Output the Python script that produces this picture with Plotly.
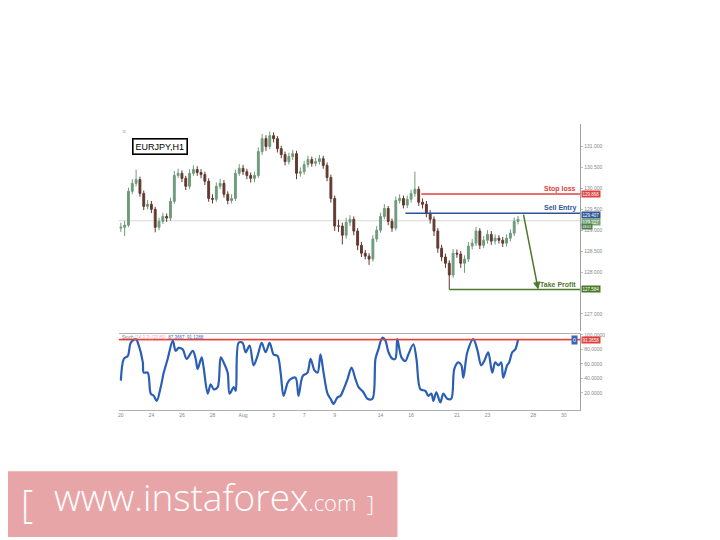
import plotly.graph_objects as go

# ---------------- data ----------------
# EURJPY H1 (sampled every 6 trading hours), x in trading days from 20 Jul
candle_open = [129.05,129.07,129.12,129.93,130.12,130.21,129.88,129.57,129.62,129.50,
 129.07,129.21,129.33,129.29,129.69,130.31,130.36,130.24,130.05,130.36,
 130.45,130.38,130.33,130.17,129.76,129.74,130.05,130.12,129.86,129.71,
 129.76,130.36,130.48,130.40,130.31,130.24,130.31,130.88,131.19,131.00,
 131.26,131.19,130.95,130.81,130.64,130.76,130.83,130.36,130.40,130.57,
 130.69,130.60,130.64,130.71,130.55,130.26,129.76,129.10,129.10,128.88,
 129.19,129.26,128.98,128.64,128.45,128.38,128.31,128.79,129.00,129.33,
 129.52,129.21,129.05,129.71,129.76,129.60,129.74,129.88,129.98,129.67,
 129.62,129.40,129.26,128.98,128.57,128.36,128.21,127.93,128.45,128.43,
 128.21,128.31,128.62,128.69,128.98,128.64,128.76,128.90,128.74,128.81,
 128.76,128.69,128.81,128.93,129.21]
candle_high = [129.18,129.22,130.02,130.22,130.45,130.28,129.95,129.72,129.70,129.56,
 129.30,129.42,129.40,129.78,130.42,130.47,130.43,130.30,130.46,130.55,
 130.53,130.46,130.40,130.24,129.86,130.14,130.23,130.20,129.93,129.86,
 130.45,130.58,130.56,130.47,130.38,130.40,130.98,131.30,131.27,131.36,
 131.34,131.25,131.02,130.88,130.85,130.92,130.90,130.50,130.66,130.78,
 130.76,130.73,130.80,130.78,130.62,130.33,129.83,129.25,129.18,129.30,
 129.36,129.33,129.05,128.72,128.53,128.45,128.88,129.10,129.42,129.62,
 129.58,129.28,129.80,129.86,129.83,129.83,129.97,130.40,130.05,129.76,
 129.70,129.48,129.33,129.05,128.65,128.44,128.28,128.55,128.54,128.50,
 128.40,128.72,128.79,129.08,129.05,128.86,129.00,128.98,128.90,128.88,
 128.84,128.90,129.02,129.30,129.34]
candle_low = [128.96,128.86,129.08,129.86,130.05,129.80,129.48,129.50,129.41,128.95,
 129.00,129.15,129.20,129.22,129.63,130.25,130.15,129.96,129.98,130.30,
 130.30,130.24,130.08,129.68,129.64,129.68,129.98,129.78,129.62,129.64,
 129.70,130.30,130.32,130.22,130.14,130.15,130.25,130.80,130.90,130.94,
 131.10,130.86,130.72,130.55,130.57,130.68,130.22,130.28,130.33,130.50,
 130.52,130.53,130.57,130.47,130.17,129.66,128.98,128.96,128.66,128.80,
 129.10,128.88,128.52,128.36,128.30,128.17,128.25,128.72,128.94,129.26,
 129.12,128.96,128.99,129.64,129.52,129.53,129.66,129.80,129.58,129.52,
 129.31,129.16,128.86,128.46,128.26,128.10,127.58,127.86,128.34,128.10,
 127.98,128.24,128.54,128.62,128.55,128.57,128.68,128.65,128.66,128.68,
 128.60,128.61,128.73,128.86,129.14]
candle_close = [129.07,129.12,129.93,130.12,130.21,129.88,129.57,129.62,129.50,129.07,
 129.21,129.33,129.29,129.69,130.31,130.36,130.24,130.05,130.36,130.45,
 130.38,130.33,130.17,129.76,129.74,130.05,130.12,129.86,129.71,129.76,
 130.36,130.48,130.40,130.31,130.24,130.31,130.88,131.19,131.00,131.26,
 131.19,130.95,130.81,130.64,130.76,130.83,130.36,130.40,130.57,130.69,
 130.60,130.64,130.71,130.55,130.26,129.76,129.10,129.10,128.88,129.19,
 129.26,128.98,128.64,128.45,128.38,128.31,128.79,129.00,129.33,129.52,
 129.21,129.05,129.71,129.76,129.60,129.74,129.88,129.98,129.67,129.62,
 129.40,129.26,128.98,128.57,128.36,128.21,127.93,128.45,128.43,128.21,
 128.31,128.62,128.69,128.98,128.64,128.76,128.90,128.74,128.81,128.76,
 128.69,128.81,128.93,129.21,129.26]
candle_day = [i * 0.25 for i in range(len(candle_close))]

stoch_day = [0.00,0.20,0.46,0.65,0.98,1.18,1.44,1.50,1.76,1.96,
 2.16,2.35,2.61,2.81,3.07,3.40,3.59,3.79,4.05,4.31,
 4.71,4.90,5.03,5.29,5.42,5.69,5.88,6.08,6.34,6.54,
 6.73,6.99,7.12,7.39,7.52,7.71,7.97,8.17,8.43,8.69,
 8.95,9.22,9.48,9.74,10.00,10.26,10.46,10.65,10.92,11.11,
 11.44,11.63,11.90,12.22,12.42,12.68,12.88,13.07,13.27,13.53,
 13.73,13.92,14.18,14.38,14.58,14.84,15.10,15.36,15.56,15.88,
 16.14,16.47,16.67,16.86,17.12,17.32,17.52,17.78,17.97,18.10,
 18.37,18.63,18.82,19.15,19.35,19.61,19.93,20.13,20.33,20.46,
 20.65,20.92,21.11,21.37,21.63,21.83,22.09,22.29,22.42,22.68,
 23.07,23.33,23.59,23.79,24.05,24.31,24.51,24.71,24.90,25.03,
 25.29,25.42,25.62,25.82,26.01]
stoch_val = [37,67,71,89,94,85,62,48,48,19,
 16,9,28,48,67,92,78,82,80,67,
 78,67,53,69,55,19,32,25,28,69,
 62,48,19,28,23,89,89,76,85,58,
 71,89,76,89,73,71,48,16,34,39,
 41,16,43,48,67,51,48,73,48,19,
 12,5,14,16,25,39,55,39,28,21,
 12,12,67,80,96,92,76,67,67,94,
 69,64,73,87,67,25,23,16,19,9,
 21,7,19,12,12,53,62,58,41,76,
 94,80,58,64,76,48,62,58,62,41,
 58,62,76,80,94]

tick_days = [0, 2, 4, 6, 8, 10, 12, 14, 17, 19, 22, 24, 27, 29]
tick_text = ["20", "24", "26", "28", "Aug", "3", "7", "9", "14", "16", "21", "23", "28", "30"]
price_ticks = [127.0, 128.0, 128.5, 129.0, 129.5, 130.0, 130.5, 131.0]
stoch_ticks = [20, 40, 60, 80, 100]

stop_loss = 129.868
sell_entry = 129.407
take_profit = 127.584
last_price = 129.227
stoch_level = 93.3658
stop_start_day = 19.67
entry_start_day = 18.63
tp_start_day = 21.5
arrow_from_day = 26.34
arrow_to_day = 27.32

# ---------------- figure ----------------
# the page body has an 8px margin, so the figure is 712x532 placed at (8, 8)
OFF = 8
W, H = 712, 532
def px(x):
    return (x - OFF) / W
def py(y):
    return 1 - (y - OFF) / H

X_MIN, X_MAX = -0.13, 30.07
xdom = [px(118), px(580)]
ydom_price = [py(330), py(122)]
ydom_stoch = [py(410), py(333)]

UP = "#6f9a7c"
DOWN = "#62392f"
RED = "#e0403c"
BLUE = "#2f5597"
GREEN = "#4b7a2b"

fig = go.Figure()
fig.add_trace(go.Candlestick(
    x=candle_day, open=candle_open, high=candle_high, low=candle_low, close=candle_close,
    xaxis="x", yaxis="y", whiskerwidth=0, showlegend=False,
    increasing=dict(line=dict(color=UP, width=1), fillcolor=UP),
    decreasing=dict(line=dict(color=DOWN, width=1), fillcolor=DOWN),
))
fig.add_trace(go.Scatter(
    x=stoch_day, y=stoch_val, xaxis="x2", yaxis="y2", mode="lines",
    line=dict(color="#2b5fb4", width=2.2, shape="spline", smoothing=0.9),
    showlegend=False,
))

axis_font = dict(size=5, color="#888888", family="Liberation Sans")
fig.update_layout(
    width=W, height=H, margin=dict(l=0, r=0, t=0, b=0),
    paper_bgcolor="white", plot_bgcolor="white",
    font=dict(family="Liberation Sans"),
    xaxis=dict(domain=xdom, range=[X_MIN, X_MAX], anchor="y", showticklabels=False,
               showgrid=False, zeroline=False, rangeslider=dict(visible=False), ticks=""),
    xaxis2=dict(domain=xdom, range=[X_MIN, X_MAX], anchor="y2", matches="x",
                tickvals=tick_days, ticktext=tick_text, tickfont=axis_font,
                showgrid=False, zeroline=False, showline=True, mirror=True,
                linecolor="#b0b0b0", linewidth=1, ticks=""),
    yaxis=dict(domain=ydom_price, range=[126.595, 131.55], anchor="x", side="right",
               tickvals=price_ticks, tickformat=".3f", tickfont=axis_font,
               showgrid=False, zeroline=False, showline=True, linecolor="#a0a0a0",
               ticks="outside", ticklen=2, tickcolor="#c0c0c0"),
    yaxis2=dict(domain=ydom_stoch, range=[-4.1, 101.4], anchor="x2", side="right",
                tickvals=stoch_ticks, tickformat=".4f", tickfont=axis_font,
                showgrid=False, zeroline=False, showline=True, linecolor="#a0a0a0",
                ticks="outside", ticklen=2, tickcolor="#c0c0c0"),
)

shapes = []
shapes.append(dict(type="line", xref="x domain", yref="y", x0=0, x1=1,
                   y0=last_price, y1=last_price, line=dict(color="#d8d8d8", width=1), layer="below"))
shapes.append(dict(type="line", xref="x", yref="y", x0=stop_start_day, x1=X_MAX,
                   y0=stop_loss, y1=stop_loss, line=dict(color=RED, width=1.5)))
shapes.append(dict(type="line", xref="x", yref="y", x0=entry_start_day, x1=X_MAX,
                   y0=sell_entry, y1=sell_entry, line=dict(color=BLUE, width=1.5)))
shapes.append(dict(type="line", xref="x", yref="y", x0=tp_start_day, x1=X_MAX,
                   y0=take_profit, y1=take_profit, line=dict(color=GREEN, width=1.5)))
shapes.append(dict(type="rect", xref="x2 domain", yref="y2", x0=0, x1=1,
                   y0=stoch_level - 2.2, y1=stoch_level + 2.2,
                   fillcolor="rgba(235,120,120,0.30)", line=dict(width=0), layer="below"))
shapes.append(dict(type="line", xref="x2 domain", yref="y2", x0=0, x1=1,
                   y0=stoch_level, y1=stoch_level, line=dict(color=RED, width=1.3)))
shapes.append(dict(type="rect", xref="paper", yref="paper", x0=px(3), x1=px(397),
                   y0=py(537), y1=py(471), fillcolor="#e8a5a7",
                   line=dict(width=0), layer="below"))
fig.update_layout(shapes=shapes)

ann = []
def lvl_font(c):
    return dict(size=7, color=c, family="Liberation Sans")
ann.append(dict(xref="x", yref="y", x=X_MAX - 0.15, y=stop_loss, xanchor="right", yanchor="bottom",
                text="<b>Stop loss</b>", showarrow=False, font=lvl_font(RED), yshift=-1))
ann.append(dict(xref="x", yref="y", x=X_MAX - 0.15, y=sell_entry, xanchor="right", yanchor="bottom",
                text="<b>Sell Entry</b>", showarrow=False, font=lvl_font(BLUE), yshift=-1))
ann.append(dict(xref="x", yref="y", x=X_MAX - 0.15, y=take_profit, xanchor="right", yanchor="bottom",
                text="<b>Take Profit</b>", showarrow=False, font=lvl_font(GREEN), yshift=-1))
ann.append(dict(xref="x", yref="y", axref="x", ayref="y", x=arrow_to_day, y=take_profit,
                ax=arrow_from_day, ay=sell_entry, showarrow=True, arrowhead=2,
                arrowsize=1, arrowwidth=1.5, arrowcolor=GREEN, text=""))
box_x = px(581)
def vbox(yref, y, txt, bg, size=4.5, yshift=0):
    return dict(xref="paper", yref=yref, x=box_x, y=y, xanchor="left", yanchor="middle",
                text=txt, showarrow=False, bgcolor=bg, borderpad=0.5, yshift=yshift,
                font=dict(size=size, color="white", family="Liberation Sans"))
ann.append(vbox("y", stop_loss, f"{stop_loss:.3f}", RED))
ann.append(vbox("y", sell_entry, f"{sell_entry:.3f}", BLUE, yshift=-1.5))
ann.append(vbox("y", last_price, f"{last_price:.3f}", "#78a878", yshift=-1.5))
ann.append(vbox("y", last_price - 0.095, "48:01", "#4f7d4f", size=3.5, yshift=-1.5))
ann.append(vbox("y", take_profit, f"{take_profit:.3f}", GREEN))
ann.append(vbox("y2", stoch_level, f"{stoch_level:.4f}", RED))
ann.append(dict(xref="paper", yref="y2", x=px(578), y=stoch_level, xanchor="right", yanchor="middle",
                text="0", showarrow=False, bgcolor="#3a66b8", borderpad=1,
                font=dict(size=5, color="white")))
ann.append(dict(xref="paper", yref="paper", x=px(159), y=py(145), xanchor="center", yanchor="middle",
                text="EURJPY,H1", showarrow=False, bgcolor="white", bordercolor="black",
                borderwidth=1.6, borderpad=2, font=dict(size=9, color="black", family="Liberation Sans")))
ann.append(dict(xref="paper", yref="paper", x=px(119), y=py(130), xanchor="left", yanchor="middle",
                text="≡", showarrow=False, font=dict(size=7, color="#b0b0b0")))
ann.append(dict(xref="paper", yref="paper", x=px(119), y=py(337), xanchor="left", yanchor="middle",
                text="Stoch <span style='color:#f0a8a8'>(14,3,3) (20,80)</span>  "
                     "<span style='color:#3a66b8'>87.3667  91.1288</span>",
                showarrow=False, font=dict(size=4.5, color="#777777")))
ann.append(dict(xref="paper", yref="paper", x=px(26), y=py(503), xanchor="center", yanchor="middle",
                text="[", showarrow=False, font=dict(size=38, color="white", family="Open Sans", weight=300)))
ann.append(dict(xref="paper", yref="paper", x=px(51), y=py(496), xanchor="left", yanchor="middle",
                text="www.instaforex<span style='font-size:22px'>.com</span>",
                showarrow=False, font=dict(size=37, color="white", family="Open Sans", weight=300)))
ann.append(dict(xref="paper", yref="paper", x=px(370), y=py(503), xanchor="center", yanchor="middle",
                text="]", showarrow=False, font=dict(size=22, color="white", family="Open Sans", weight=300)))
fig.update_layout(annotations=ann)

fig.write_html("out.html", config={"displayModeBar": False})
